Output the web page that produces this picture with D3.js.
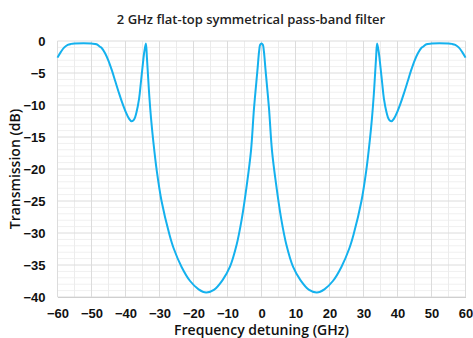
<!DOCTYPE html>
<html>
<head>
<meta charset="utf-8">
<script src="https://cdn.jsdelivr.net/npm/d3@7"></script>
<style>
  body { margin: 0; background: #fff; }
  svg { display: block; font-family: "Open Sans", sans-serif; }
  .tick text { font-size: 13px; font-weight: 600; fill: #111; }
</style>
</head>
<body>
<div id="chart"></div>
<script>
// detuning (GHz) and transmission (dB)
const freq = [
  -60, -59, -58, -57, -56, -55, -50, -48.5, -47.5, -47, -46, -45, -44, -43, -42, -41, -40, -39, -38.2,
  -37.5, -36.8, -36, -35.5, -35, -34.5, -34, -33.7, -33.4, -33, -32.5, -31.8, -30.8, -29.4, -27.1,
  -25.9, -23.5, -21, -18.5, -16.3, -14, -11.5, -9.3, -7.3, -5.8, -4.35, -3.1, -2.2, -1.2, -0.7, -0.4, 0,
  0.4, 0.7, 1.2, 2.2, 3.1, 4.35, 5.8, 7.3, 9.3, 11.5, 14, 16.3, 18.5, 21, 23.5, 25.9, 27.1, 29.4, 30.8,
  31.8, 32.5, 33, 33.4, 33.7, 34, 34.5, 35, 35.5, 36, 36.8, 37.5, 38.2, 39, 40, 41, 42, 43, 44, 45,
  46, 47, 47.5, 48.5, 50, 55, 56, 57, 58, 59, 60
];
const trans = [
  -2.6, -1.7, -1.0, -0.6, -0.45, -0.4, -0.4, -0.5, -0.9, -1.1, -1.9, -3.1, -4.6, -6.3, -8.0, -9.6, -11.0, -12.1, -12.55,
  -12.3, -11.2, -9.0, -6.6, -4.1, -1.8, -0.4, -2.6, -5.2, -8.6, -12.0, -15.8, -20.3, -25.0, -30.2,
  -32.3, -35.3, -37.5, -38.8, -39.3, -38.9, -37.4, -35.3, -31.8, -27.8, -22.6, -17.2, -10.5, -4.6, -1.6, -0.6, -0.4,
  -0.6, -1.6, -4.6, -10.5, -17.2, -22.6, -27.8, -31.8, -35.3, -37.4, -38.9, -39.3, -38.8, -37.5, -35.3, -32.3, -30.2, -25.0, -20.3,
  -15.8, -12.0, -8.6, -5.2, -2.6, -0.4, -1.8, -4.1, -6.6, -9.0, -11.2, -12.3, -12.55, -12.1, -11.0, -9.6, -8.0, -6.3, -4.6, -3.1,
  -1.9, -1.1, -0.9, -0.5, -0.4, -0.4, -0.45, -0.6, -1.0, -1.7, -2.6
];
const xTicks = [-60, -50, -40, -30, -20, -10, 0, 10, 20, 30, 40, 50, 60];
const yTicks = [0, -5, -10, -15, -20, -25, -30, -35, -40];

const width = 473, height = 338;
const margin = { top: 41, right: 7.5, bottom: 41, left: 57.5 };

const svg = d3.select('#chart').append('svg')
  .attr('width', width)
  .attr('height', height);

const x = d3.scaleLinear().domain([-60, 60]).range([margin.left, width - margin.right]);
const y = d3.scaleLinear().domain([-40, 0]).range([height - margin.bottom, margin.top]);

// minor grid
svg.append('g').selectAll('line')
  .data(d3.range(-40, 1, 1).filter(v => v % 5 !== 0))
  .enter().append('line')
  .attr('x1', x(-60)).attr('x2', x(60))
  .attr('y1', d => y(d)).attr('y2', d => y(d))
  .attr('stroke', '#f0f0f0').attr('stroke-width', 1);

svg.append('g').selectAll('line')
  .data(d3.range(-55, 60, 10))
  .enter().append('line')
  .attr('y1', y(-40)).attr('y2', y(0))
  .attr('x1', d => x(d)).attr('x2', d => x(d))
  .attr('stroke', '#ececec').attr('stroke-width', 1);

// major grid
svg.append('g').selectAll('line')
  .data(yTicks)
  .enter().append('line')
  .attr('x1', x(-60)).attr('x2', x(60))
  .attr('y1', d => y(d)).attr('y2', d => y(d))
  .attr('stroke', '#dcdcdc').attr('stroke-width', 1);

svg.append('g').selectAll('line')
  .data(xTicks)
  .enter().append('line')
  .attr('y1', y(-40)).attr('y2', y(0))
  .attr('x1', d => x(d)).attr('x2', d => x(d))
  .attr('stroke', '#dcdcdc').attr('stroke-width', 1);

// axes
const xAxis = svg.append('g')
  .attr('transform', 'translate(0,' + y(-40) + ')')
  .call(d3.axisBottom(x).tickValues(xTicks).tickSize(0).tickPadding(12).tickFormat(d3.format('d')));
xAxis.select('.domain').attr('stroke', '#cfcfcf');

const yAxis = svg.append('g')
  .attr('transform', 'translate(' + x(-60) + ',0)')
  .call(d3.axisLeft(y).tickValues(yTicks).tickSize(0).tickPadding(12).tickFormat(d3.format('d')));
yAxis.select('.domain').remove();

// curve
const data = freq.map((f, i) => ({ f: f, t: trans[i] }));
const line = d3.line()
  .x(d => x(d.f))
  .y(d => y(d.t))
  .curve(d3.curveCatmullRom.alpha(0.5));

svg.append('path')
  .datum(data)
  .attr('fill', 'none')
  .attr('stroke', '#14b1ee')
  .attr('stroke-width', 2)
  .attr('d', line);

// titles
svg.append('text')
  .attr('x', 251).attr('y', 24)
  .attr('text-anchor', 'middle')
  .attr('font-size', 13).attr('font-weight', 600).attr('fill', '#222')
  .text('2 GHz flat-top symmetrical pass-band filter');

svg.append('text')
  .attr('x', (x(-60) + x(60)) / 2).attr('y', 335)
  .attr('text-anchor', 'middle')
  .attr('font-size', 14).attr('font-weight', 600).attr('fill', '#111')
  .text('Frequency detuning (GHz)');

svg.append('text')
  .attr('transform', 'translate(20,' + (y(-20)) + ') rotate(-90)')
  .attr('text-anchor', 'middle')
  .attr('font-size', 14).attr('font-weight', 600).attr('fill', '#111')
  .text('Transmission (dB)');
</script>
</body>
</html>
